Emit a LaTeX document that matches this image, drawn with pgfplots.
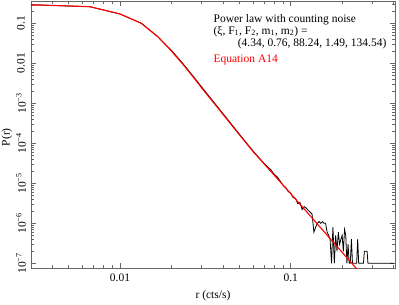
\documentclass[border=0pt]{standalone}
\usepackage{fontspec}
\setmainfont{Liberation Serif}
\usepackage{pgfplots}
\pgfplotsset{compat=1.18}
\usetikzlibrary{calc}
\newcommand{\fs}{\fontsize{11.5}{13.5}\selectfont}
\begin{document}
\begin{tikzpicture}
\begin{axis}[
 xmode=log, ymode=log,
 scale only axis, width=364pt, height=267pt,
 xmin=0.00301, xmax=0.408, ymin=7.63e-8, ymax=0.361,
 axis line style={black!60, line width=0.6pt},
 every tick/.style={black!60, line width=0.5pt},
 major tick length=5pt, minor tick length=2.7pt,
 tick align=inside,
 xtick={0.01,0.1}, xticklabels={0.01,0.1},
 minor xtick={0.004,0.005,0.006,0.007,0.008,0.009,0.02,0.03,0.04,0.05,0.06,0.07,0.08,0.09,0.2,0.3,0.4},
 ytick={1e-7,1e-6,1e-5,1e-4,1e-3,0.01,0.1},
 yticklabels={10\textsuperscript{−7},10\textsuperscript{−6},10\textsuperscript{−5},10\textsuperscript{−4},10\textsuperscript{−3},0.01,0.1},
 minor ytick={2e-7,3e-7,4e-7,5e-7,6e-7,7e-7,8e-7,9e-7,2e-6,3e-6,4e-6,5e-6,6e-6,7e-6,8e-6,9e-6,2e-5,3e-5,4e-5,5e-5,6e-5,7e-5,8e-5,9e-5,2e-4,3e-4,4e-4,5e-4,6e-4,7e-4,8e-4,9e-4,2e-3,3e-3,4e-3,5e-3,6e-3,7e-3,8e-3,9e-3,0.02,0.03,0.04,0.05,0.06,0.07,0.08,0.09,0.2,0.3},
 tick label style={font=\fs},
 xticklabel style={anchor=center, yshift=-9.5pt},
 yticklabel style={xshift=-10pt, rotate=90, anchor=center},
 xlabel={r (cts/s)}, ylabel={P(r)},
 label style={font=\fs},
 xlabel style={at={(axis description cs:0.5,-0.105)}, anchor=center},
 ylabel style={at={(axis description cs:-0.066,0.49)}, rotate=0, anchor=center},
]
\addplot[black, line width=0.8pt] coordinates {
(0.002,0.29)(0.003333,0.287)(0.006667,0.26)(0.01,0.171)(0.013333,0.1)(0.016667,0.046)
(0.02,0.0211)(0.023333,0.0099)(0.026667,0.0049)(0.03,0.0026)(0.04,5.6e-4)(0.05,1.7e-4)
(0.06,6.5e-5)(0.07,3.1e-5)(0.076667,2.15e-5)(0.08,1.68e-5)(0.083333,1.45e-5)(0.086667,1.15e-5)
(0.09,9.0e-6)(0.093333,7.9e-6)(0.096667,6.2e-6)(0.1,5.7e-6)(0.103333,4.4e-6)(0.106667,4.2e-6)
(0.11,3.1e-6)(0.113333,3.3e-6)(0.116667,2.2e-6)(0.12,2.6e-6)(0.123333,2.4e-6)(0.126667,2.1e-6)
(0.13,1.9e-6)(0.133333,1.7e-6)(0.136667,6e-7)(0.14,8e-7)(0.143333,1.0e-6)(0.146667,1.1e-6)
(0.15,1.0e-6)(0.153333,1.1e-6)(0.156667,1.0e-6)(0.16,1.0e-6)(0.163333,6e-7)(0.166667,5e-7)
(0.17,4e-7)(0.173333,1e-7)(0.176667,8e-7)(0.18,1e-7)(0.183333,5e-7)(0.186667,2e-7)
(0.19,6e-7)(0.193333,3e-7)(0.196667,4e-7)(0.2,5e-7)(0.203333,2e-7)(0.206667,7e-7)
(0.21,5e-7)(0.213333,1e-7)(0.216667,3e-7)(0.22,1e-7)(0.223333,1e-7)(0.226667,4e-7)
(0.23,1e-7)(0.233333,1e-7)(0.236667,1e-7)(0.24,1e-7)(0.243333,1e-7)(0.246667,4e-7)
(0.25,1e-7)(0.253333,1e-7)(0.256667,1e-7)(0.26,1e-7)(0.263333,1e-7)(0.266667,1e-7)
(0.27,2e-7)(0.273333,2e-7)(0.276667,2e-7)(0.28,2e-7)(0.283333,1e-7)(0.286667,1e-7)
(0.3,1e-7)(0.35,1e-7)(0.4,1e-7)
};
\addplot[red, line width=1.1pt] coordinates {
(0.002,0.29)(0.003333,0.287)(0.006667,0.26)(0.01,0.171)(0.013333,0.1)(0.016667,0.046)
(0.02,0.0203)(0.023333,0.0095)(0.026667,0.0047)(0.03,0.00246)(0.04,5.36e-4)(0.05,1.64e-4)
(0.06,6.31e-5)(0.07,3.03e-5)(0.08,1.60e-5)(0.09,9.1e-6)(0.1,5.5e-6)(0.15,7.66e-7)
(0.2,1.89e-7)(0.25,6.38e-8)
};
\node[anchor=base west, font=\fs] at (rel axis cs:0.492,0.921) {Power law with counting noise};
\node[anchor=base west, font=\fs] at (rel axis cs:0.492,0.876) {(ξ, F\textsubscript{1}, F\textsubscript{2}, m\textsubscript{1}, m\textsubscript{2}) =};
\node[anchor=base east, font=\fs] at (rel axis cs:0.986,0.831) {(4.34, 0.76, 88.24, 1.49, 134.54)};
\node[anchor=base west, font=\fs, text=red] at (rel axis cs:0.492,0.768) {Equation A14};
\end{axis}
\pgfresetboundingbox
\path ($(current axis.south west)+(-31pt,-37pt)$) rectangle ($(current axis.north east)+(4pt,1pt)$);
\end{tikzpicture}
\end{document}
